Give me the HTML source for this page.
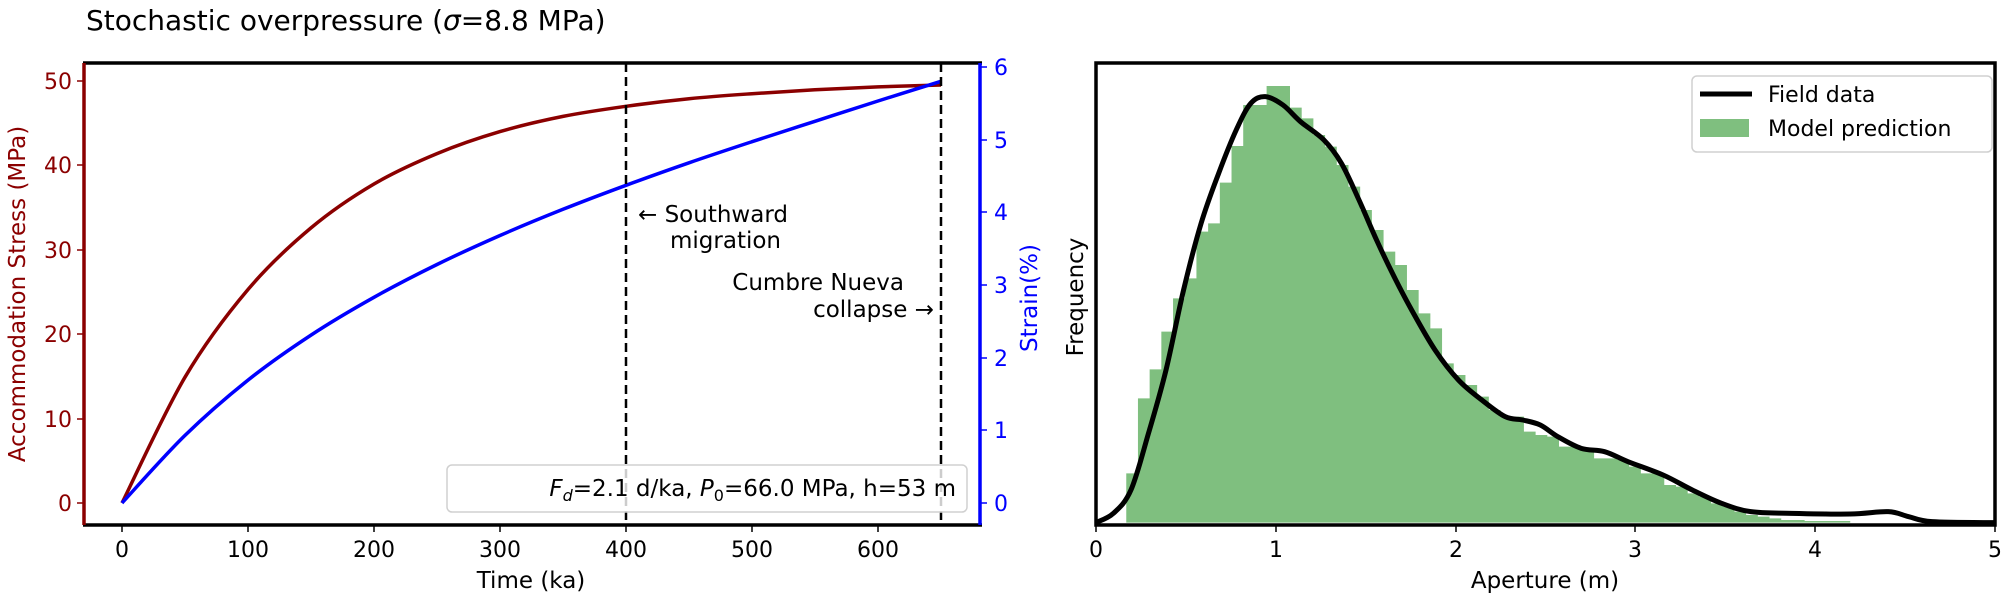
<!DOCTYPE html>
<html><head><meta charset="utf-8"><style>
html,body{margin:0;padding:0;background:#fff;}
svg{display:block;font-family:"DejaVu Sans","Liberation Sans",sans-serif;}
</style></head><body>
<svg width="2007" height="598" viewBox="0 0 2007 598" xmlns="http://www.w3.org/2000/svg">
<rect width="2007" height="598" fill="#fff"/>
<text x="86" y="30" font-size="28" fill="#000">Stochastic overpressure (<tspan font-style="italic">σ</tspan>=8.8 MPa)</text>

<g font-size="22">
<path id="red" fill="none" stroke="#8b0000" stroke-width="3.5" stroke-linejoin="round" d="M122,503 L185,377.2 L248,289.5 L311,227.9 L374,184 L437,153.6 L500,131.6 L563,116.4 L626,106.3 L689,98.7 L752,93.7 L815,89.8 L878,86.9 L941,85"/>
<path id="blue" fill="none" stroke="#0000ff" stroke-width="3.5" stroke-linejoin="round" d="M122,503 L185,435.4 L248,380.1 L311,335.1 L374,297.3 L437,264.5 L500,235.5 L563,209.3 L626,185.3 L689,162.8 L752,141.7 L815,121.3 L878,101 L941,81.3"/>
<line x1="626" y1="63" x2="626" y2="525" stroke="#000" stroke-width="2.5" stroke-dasharray="9,5"/>
<line x1="941" y1="63" x2="941" y2="525" stroke="#000" stroke-width="2.5" stroke-dasharray="9,5"/>
<text x="638" y="222" fill="#000" font-size="23">← Southward</text>
<text x="670" y="248" fill="#000" font-size="23">migration</text>
<text x="904" y="290" text-anchor="end" fill="#000" font-size="23">Cumbre Nueva</text>
<text x="934" y="317" text-anchor="end" fill="#000" font-size="23">collapse →</text>
<rect x="447" y="465" width="520" height="47" rx="5" fill="#fff" fill-opacity="0.8" stroke="#d0d0d0" stroke-width="1.5"/>
<text x="956" y="496" text-anchor="end" fill="#000" font-size="23"><tspan font-style="italic">F</tspan><tspan font-style="italic" font-size="16" dy="5">d</tspan><tspan dy="-5">=2.1 d/ka, </tspan><tspan font-style="italic">P</tspan><tspan font-size="16" dy="5">0</tspan><tspan dy="-5">=66.0 MPa, h=53 m</tspan></text>
<line x1="83" y1="63" x2="982" y2="63" stroke="#000" stroke-width="3.5"/>
<line x1="83" y1="525" x2="982" y2="525" stroke="#000" stroke-width="3.5"/>
<line x1="84" y1="63" x2="84" y2="525" stroke="#8b0000" stroke-width="3.5"/>
<line x1="980" y1="63" x2="980" y2="525" stroke="#0000ff" stroke-width="3.5"/>
<g stroke="#8b0000" stroke-width="1.5">
<line x1="77" y1="503" x2="84" y2="503"/><line x1="77" y1="419" x2="84" y2="419"/><line x1="77" y1="334" x2="84" y2="334"/><line x1="77" y1="250" x2="84" y2="250"/><line x1="77" y1="165" x2="84" y2="165"/><line x1="77" y1="81" x2="84" y2="81"/>
</g>
<g fill="#8b0000" text-anchor="end">
<text x="72" y="511">0</text><text x="72" y="427">10</text><text x="72" y="342">20</text><text x="72" y="258">30</text><text x="72" y="173">40</text><text x="72" y="89">50</text>
</g>
<text transform="translate(25,294) rotate(-90)" text-anchor="middle" fill="#8b0000" font-size="23">Accommodation Stress (MPa)</text>
<g stroke="#0000ff" stroke-width="1.5">
<line x1="980" y1="503" x2="987" y2="503"/><line x1="980" y1="430" x2="987" y2="430"/><line x1="980" y1="358" x2="987" y2="358"/><line x1="980" y1="285" x2="987" y2="285"/><line x1="980" y1="212" x2="987" y2="212"/><line x1="980" y1="140" x2="987" y2="140"/><line x1="980" y1="67" x2="987" y2="67"/>
</g>
<g fill="#0000ff">
<text x="994" y="511">0</text><text x="994" y="438">1</text><text x="994" y="366">2</text><text x="994" y="293">3</text><text x="994" y="220">4</text><text x="994" y="148">5</text><text x="994" y="75">6</text>
</g>
<text transform="translate(1037,298) rotate(-90)" text-anchor="middle" fill="#0000ff" font-size="23">Strain(%)</text>
<g stroke="#000" stroke-width="1.5">
<line x1="122" y1="525" x2="122" y2="532"/><line x1="248" y1="525" x2="248" y2="532"/><line x1="374" y1="525" x2="374" y2="532"/><line x1="500" y1="525" x2="500" y2="532"/><line x1="626" y1="525" x2="626" y2="532"/><line x1="752" y1="525" x2="752" y2="532"/><line x1="878" y1="525" x2="878" y2="532"/>
</g>
<g text-anchor="middle" fill="#000">
<text x="122" y="557">0</text><text x="248" y="557">100</text><text x="374" y="557">200</text><text x="500" y="557">300</text><text x="626" y="557">400</text><text x="752" y="557">500</text><text x="878" y="557">600</text>
<text x="531" y="588" font-size="23">Time (ka)</text>
</g>
</g>

<g transform="translate(1090,50) scale(0.5848,0.33333)">
<path fill="#7fbf7f" d="M62,1418 V1270 H82 V1045 H102 V958 H122 V845 H142 V745 H162 V685 H182 V545 H202 V520 H222 V398 H242 V288 H262 V165 H302 V108 H342 V173 H362 V205 H382 V255 H402 V290 H422 V345 H442 V410 H462 V480 H482 V540 H502 V605 H522 V645 H542 V720 H562 V790 H582 V835 H602 V940 H622 V975 H642 V1005 H662 V1040 H682 V1080 H702 V1100 H742 V1145 H762 V1155 H782 V1160 H802 V1190 H842 V1195 H862 V1225 H902 V1230 H922 V1250 H942 V1270 H982 V1305 H1002 V1310 H1022 V1330 H1042 V1340 H1062 V1360 H1082 V1370 H1102 V1385 H1122 V1395 H1142 V1400 H1162 V1405 H1182 V1410 H1222 V1413 H1300 V1418 Z"/>
<path id="kde" fill="none" stroke="#000" stroke-width="5" stroke-linejoin="round" vector-effect="non-scaling-stroke" d="M10,1418 L40,1390 L70,1320 L100,1150 L130,960 L160,720 L190,520 L220,370 L250,240 L275,160 L300,140 L330,165 L360,215 L400,270 L430,340 L460,450 L490,570 L520,680 L550,780 L590,900 L630,990 L670,1050 L710,1100 L740,1110 L770,1125 L800,1160 L840,1195 L880,1205 L920,1235 L980,1275 L1030,1320 L1080,1360 L1130,1385 L1200,1390 L1300,1392 L1365,1385 L1400,1400 L1440,1415 L1550,1418"/>
</g>
<rect x="1096" y="63" width="899" height="462" fill="none" stroke="#000" stroke-width="3.5"/>
<g stroke="#000" stroke-width="1.5">
<line x1="1096" y1="525" x2="1096" y2="532"/><line x1="1276" y1="525" x2="1276" y2="532"/><line x1="1456" y1="525" x2="1456" y2="532"/><line x1="1635" y1="525" x2="1635" y2="532"/><line x1="1815" y1="525" x2="1815" y2="532"/><line x1="1995" y1="525" x2="1995" y2="532"/>
</g>
<g text-anchor="middle" fill="#000" font-size="22">
<text x="1096" y="557">0</text><text x="1276" y="557">1</text><text x="1456" y="557">2</text><text x="1635" y="557">3</text><text x="1815" y="557">4</text><text x="1995" y="557">5</text>
<text x="1545" y="588" font-size="23">Aperture (m)</text>
</g>
<text transform="translate(1083,297) rotate(-90)" text-anchor="middle" fill="#000" font-size="23">Frequency</text>
<rect x="1692" y="76" width="300" height="76" rx="5" fill="#fff" fill-opacity="0.8" stroke="#d0d0d0" stroke-width="1.5"/>
<line x1="1700" y1="94" x2="1752" y2="94" stroke="#000" stroke-width="5"/>
<rect x="1700" y="119" width="49" height="18" fill="#7fbf7f"/>
<text x="1768" y="102" font-size="22" fill="#000">Field data</text>
<text x="1768" y="136" font-size="22" fill="#000">Model prediction</text>
</svg>
<script>
(function(){
  function smooth(id){
    var el=document.getElementById(id); if(!el) return;
    var nums=el.getAttribute('d').match(/-?[\d.]+/g).map(Number);
    var p=[];for(var i=0;i<nums.length;i+=2)p.push([nums[i],nums[i+1]]);
    var d='M'+p[0][0]+','+p[0][1];
    for(var i=0;i<p.length-1;i++){
      var p0=p[i-1]||p[i],p1=p[i],p2=p[i+1],p3=p[i+2]||p2;
      var c1=[p1[0]+(p2[0]-p0[0])/6,p1[1]+(p2[1]-p0[1])/6];
      var c2=[p2[0]-(p3[0]-p1[0])/6,p2[1]-(p3[1]-p1[1])/6];
      d+=' C'+c1[0].toFixed(2)+','+c1[1].toFixed(2)+' '+c2[0].toFixed(2)+','+c2[1].toFixed(2)+' '+p2[0]+','+p2[1];
    }
    el.setAttribute('d',d);
  }
  smooth('red');smooth('blue');smooth('kde');
})();
</script>
</body></html>
